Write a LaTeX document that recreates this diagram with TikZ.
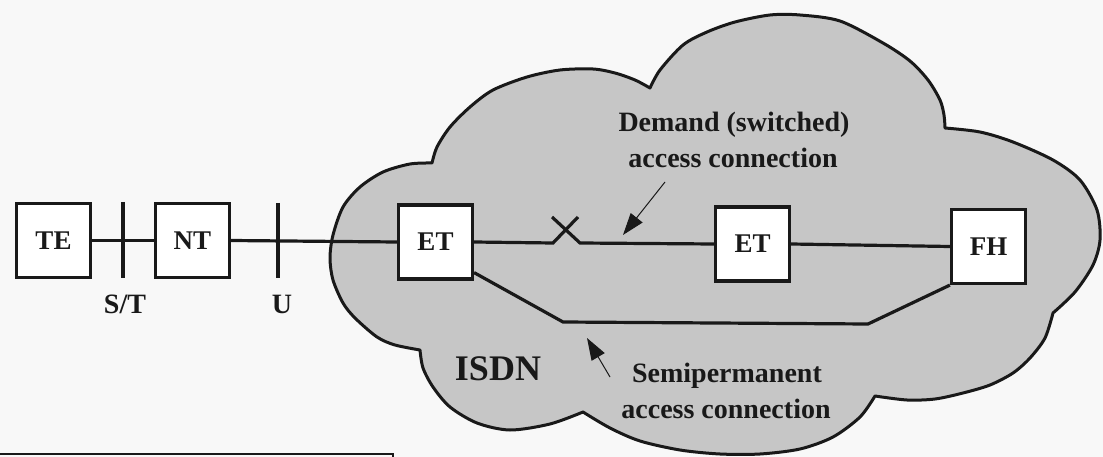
\documentclass[tikz,border=0pt]{standalone}
\usepackage{fontspec}
\setmainfont{Liberation Serif}
\usetikzlibrary{arrows.meta}
\definecolor{bg}{RGB}{248,248,248}
\definecolor{cloudgray}{RGB}{198,198,198}
\definecolor{ink}{RGB}{25,25,25}
\begin{document}
\begin{tikzpicture}[x=1pt,y=-1pt,
  box/.style={draw=ink, fill=white, line width=3.2pt, minimum width=74pt, minimum height=74pt, inner sep=0pt, font=\fontsize{27}{27}\selectfont\bfseries, text=ink},
  wire/.style={draw=ink, line width=3.2pt},
  lbl/.style={font=\fontsize{28}{34}\selectfont\bfseries, text=ink, anchor=base, inner sep=0pt},
  pointer/.style={draw=ink, line width=1pt, -{Triangle[length=22pt,width=15pt]}},
  cloudline/.style={draw=ink, fill=cloudgray, line width=3pt, line join=round}]
\useasboundingbox (0,0) rectangle (1103,457);
\fill[bg] (0,0) rectangle (1103,457);

% cloud
\path[cloudline]
  plot[smooth] coordinates {(432,163) (437,147) (450,127) (470,107) (493,90) (527,77) (560,70) (593,69) (615,73) (635,80) (650,88)}
  -- plot[smooth] coordinates {(650,88) (660,70) (683,45) (707,32) (735,22) (770,15) (800,15) (840,21) (883,43) (910,61) (928,80) (940,100) (944,115) (945,128)}
  -- plot[smooth] coordinates {(945,128) (980,132) (1013,142) (1053,160) (1080,180) (1097,210) (1100,240) (1093,265) (1075,292) (1053,313)}
  -- plot[smooth] coordinates {(1053,313) (1045,338) (1030,358) (1013,373) (990,385) (963,393) (935,399) (907,400) (875,396)}
  -- plot[smooth] coordinates {(875,396) (860,417) (833,437) (800,449) (760,454) (720,454) (680,450) (640,441) (610,428) (583,412)}
  -- plot[smooth] coordinates {(583,412) (550,424) (510,430) (477,423) (450,407) (433,387) (423,368) (420,350)}
  -- plot[smooth] coordinates {(420,350) (395,345) (377,337) (355,318) (343,303) (333,280) (330,258) (333,235) (343,207) (360,187) (383,172) (410,164) (432,163)}
  -- cycle;

% boxes
\node[box] (TE) at (53.5,240.5) {TE};
\node[box] (NT) at (192.5,240.5) {NT};
\node[box] (ET1) at (435.5,242) {ET};
\node[box] (ET2) at (752.5,244) {ET};
\node[box] (FH) at (988.5,246.5) {FH};

% reference point ticks
\coordinate (st1) at (123,202);
\coordinate (st2) at (123,278);
\coordinate (u1) at (278,203);
\coordinate (u2) at (278,278);
\draw[wire] (st1) -- (st2);
\draw[wire] (u1) -- (u2);

% connections
\draw[wire] (TE.east) -- (NT.west);
\draw[wire] (NT.east) -- (ET1.west);
\coordinate (x1) at (553,243);
\coordinate (x2) at (578,217);
\coordinate (x3) at (552,217);
\coordinate (x4) at (580,243);
\draw[wire] (ET1.east) -- (x1) -- (x2);
\draw[wire] (x3) -- (x4) -- (ET2.west);
\draw[wire] (ET2.east) -- (FH.west);
\coordinate (sp2) at (563,322);
\coordinate (sp3) at (868,324);
\draw[wire] ([yshift=8pt]ET1.south east) -- (sp2) -- (sp3) -- (FH.south west);

% labels
\node[lbl] (stlabel) at (125,313) {S/T};
\node[lbl] (ulabel) at (282,313) {U};
\node[lbl] (dem1) at (734,132) {Demand (switched)};
\node[lbl] (dem2) at (733,168) {access connection};
\node[lbl] (sem1) at (727,382) {Semipermanent};
\node[lbl] (sem2) at (726,418) {access connection};
\node[lbl, font=\fontsize{36}{40}\selectfont\bfseries] (isdn) at (498,380) {ISDN};

% pointers
\coordinate (da) at (665,182);
\coordinate (dt) at (623,235);
\coordinate (sa) at (610,377);
\coordinate (stip) at (587,338);
\draw[pointer] (da) -- (dt);
\draw[pointer] (sa) -- (stip);

% partial frame at bottom left
\coordinate (f1) at (0,454);
\coordinate (f2) at (393,462);
\draw[ink, line width=1.5pt] (f1) -| (f2);
\end{tikzpicture}
\end{document}
